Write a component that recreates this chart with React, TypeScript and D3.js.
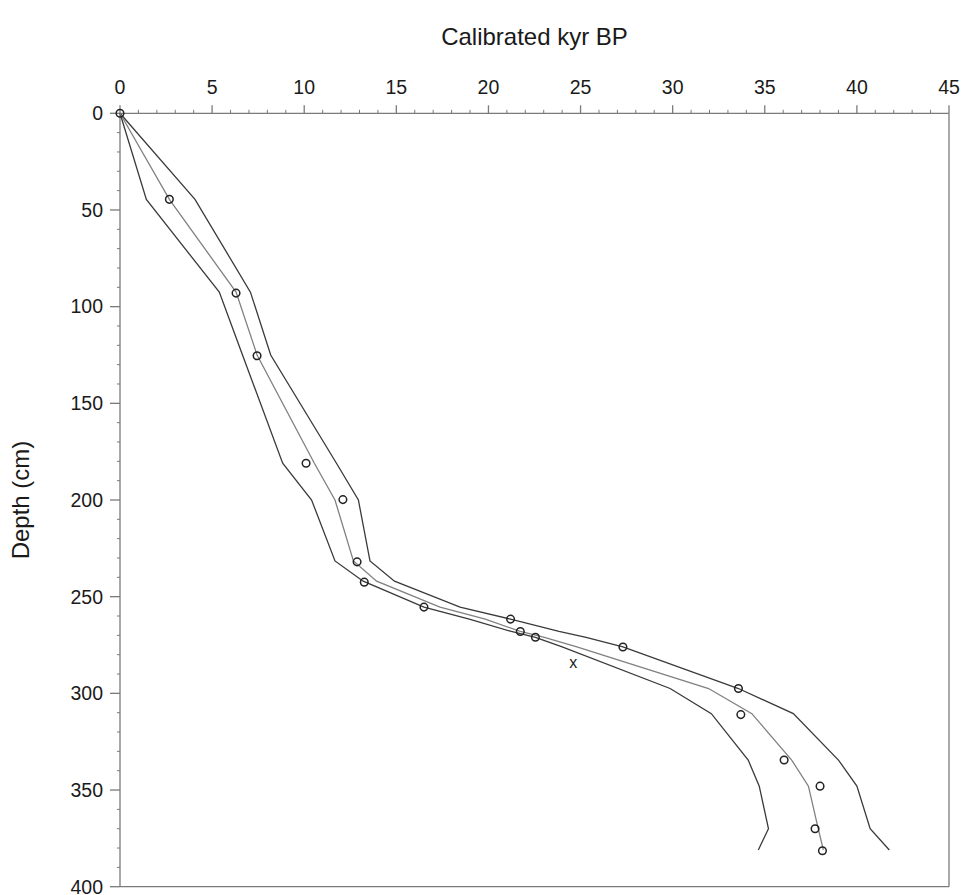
import React from "react";
import * as d3 from "d3";

// Depths (cm) of age-model nodes
const modelDepths = [0, 44.5, 92.5, 125, 181, 200, 231.5, 242, 255.4, 261.6, 268, 271, 276, 297.5, 310.5, 334.5, 348, 370, 381];
// Age model (kyr BP): minimum, best, maximum
const modelMin = [0, 1.43, 5.39, 6.65, 8.83, 10.4, 11.67, 13.2, 16.5, 18.96, 21.24, 22.55, 24.0, 29.86, 32.1, 34.1, 34.7, 35.2, 34.65];
const modelMid = [0, 2.68, 6.3, 7.44, 10.55, 11.67, 12.67, 13.93, 17.37, 19.83, 21.73, 23.04, 24.8, 31.95, 34.3, 36.46, 37.37, 37.9, 38.18];
const modelMax = [0, 4.07, 7.08, 8.18, 11.75, 12.94, 13.57, 14.9, 18.46, 21.2, 23.83, 25.3, 27.3, 33.57, 36.55, 39.0, 40.0, 40.72, 41.76];

// Dated samples
const sampleAges = [0, 2.68, 6.3, 7.44, 10.1, 12.1, 12.87, 13.26, 16.5, 21.2, 21.73, 22.55, 27.3, 33.57, 33.7, 36.05, 38.0, 37.73, 38.13];
const sampleDepths = [0, 44.5, 93, 125.4, 181, 199.8, 232, 242.5, 255.4, 261.6, 268, 271, 276, 297.5, 311, 334.5, 348, 370, 381.4];

// Rejected date
const outlierAge = [24.6];
const outlierDepth = [284.5];

const xTicks = [0, 5, 10, 15, 20, 25, 30, 35, 40, 45];
const yTicks = [0, 50, 100, 150, 200, 250, 300, 350, 400];

const W = 963;
const H = 895;
const FONT = "'Liberation Sans', Arial, sans-serif";

export default function App() {
  const x = d3.scaleLinear().domain([0, 45]).range([120, 949]);
  const y = d3.scaleLinear().domain([0, 400]).range([113.3, 886.7]);

  const line = d3
    .line<[number, number]>()
    .x((d) => x(d[0]))
    .y((d) => y(d[1]));

  const minPts = modelDepths.map((d, i) => [modelMin[i], d] as [number, number]);
  const midPts = modelDepths.map((d, i) => [modelMid[i], d] as [number, number]);
  const maxPts = modelDepths.map((d, i) => [modelMax[i], d] as [number, number]);

  const xMinor = d3.range(0, 46, 1).filter((v) => v % 5 !== 0);
  const yMinor = d3.range(0, 401, 10).filter((v) => v % 50 !== 0);

  const axisColor = "#7a7a7a";
  const textColor = "#1a1a1a";

  return (
    <svg
      width={W}
      height={H}
      style={{ position: "absolute", left: 0, top: 0, background: "#fff" }}
      fontFamily={FONT}
    >
      <rect x={0} y={0} width={W} height={H} fill="#fff" />
      {/* frame: right and bottom */}
      <line x1={x(45)} x2={x(45)} y1={y(0)} y2={y(400)} stroke={axisColor} strokeWidth={1.3} />
      <line x1={x(0)} x2={x(45)} y1={y(400)} y2={y(400)} stroke={axisColor} strokeWidth={1.3} />

      {/* top axis */}
      <line x1={x(0)} x2={x(45)} y1={y(0)} y2={y(0)} stroke={axisColor} strokeWidth={1.3} />
      {xTicks.map((t) => (
        <g key={"xt" + t}>
          <line x1={x(t)} x2={x(t)} y1={y(0)} y2={y(0) - 8} stroke={axisColor} strokeWidth={1.3} />
          <text x={x(t)} y={94} textAnchor="middle" fontSize={19.5} fill={textColor}>
            {t}
          </text>
        </g>
      ))}
      {xMinor.map((t) => (
        <line key={"xm" + t} x1={x(t)} x2={x(t)} y1={y(0)} y2={y(0) - 3.5} stroke={axisColor} strokeWidth={1} />
      ))}

      {/* left axis */}
      <line x1={x(0)} x2={x(0)} y1={y(0)} y2={y(400)} stroke={axisColor} strokeWidth={1.3} />
      {yTicks.map((t) => (
        <g key={"yt" + t}>
          <line x1={x(0)} x2={x(0) - 10} y1={y(t)} y2={y(t)} stroke={axisColor} strokeWidth={1.3} />
          <text x={103} y={y(t)} dy="0.35em" textAnchor="end" fontSize={19.5} fill={textColor}>
            {t}
          </text>
        </g>
      ))}
      {yMinor.map((t) => (
        <line key={"ym" + t} x1={x(0)} x2={x(0) - 3} y1={y(t)} y2={y(t)} stroke={axisColor} strokeWidth={1} />
      ))}

      {/* titles */}
      <text x={(x(0) + x(45)) / 2} y={37} dy="0.35em" textAnchor="middle" fontSize={24} fill={textColor}>
        Calibrated kyr BP
      </text>
      <text
        transform={`translate(21, ${(y(0) + y(400)) / 2}) rotate(-90)`}
        textAnchor="middle"
        dy="0.35em"
        fontSize={24}
        fill={textColor}
      >
        Depth (cm)
      </text>

      {/* age model */}
      <path d={line(minPts) || ""} fill="none" stroke="#3a3a3a" strokeWidth={1.3} />
      <path d={line(maxPts) || ""} fill="none" stroke="#3a3a3a" strokeWidth={1.3} />
      <path d={line(midPts) || ""} fill="none" stroke="#808080" strokeWidth={1.3} />

      {/* samples */}
      {sampleAges.map((a, i) => (
        <circle key={"s" + i} cx={x(a)} cy={y(sampleDepths[i])} r={3.8} fill="none" stroke="#222" strokeWidth={1.5} />
      ))}
      {outlierAge.map((a, i) => (
        <text key={"o" + i} x={x(a)} y={y(outlierDepth[i])} dy="0.3em" textAnchor="middle" fontSize={16} fill={textColor}>
          x
        </text>
      ))}
    </svg>
  );
}
